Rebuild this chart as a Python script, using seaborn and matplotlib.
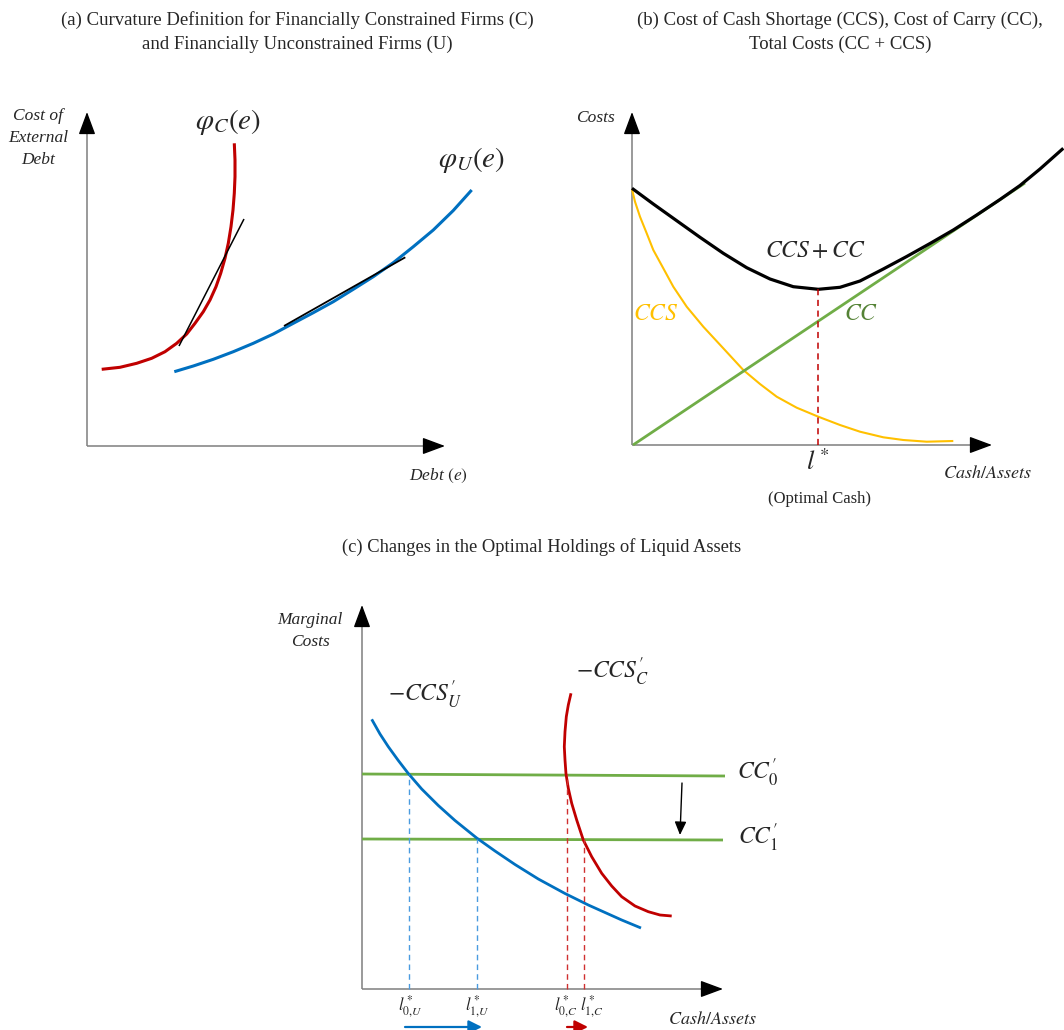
import matplotlib
matplotlib.use("Agg")
import matplotlib.pyplot as plt
import seaborn as sns

sns.set_theme(style="white")
plt.rcParams["font.family"] = ["Liberation Serif", "DejaVu Serif"]
plt.rcParams["mathtext.fontset"] = "stix"

W, H = 1064, 1030

# --- Panel (a): curvature (origin at axis corner)
a_red_x = [14.7, 33, 49.7, 64.7, 78, 89.7, 99.7, 108, 116.3, 123, 129, 133.7, 138,
           141.3, 144, 146, 147.3, 148, 148, 147.3]
a_red_y = [76.7, 78.7, 82.7, 87.7, 94.3, 102.7, 112, 122.7, 134.3, 146, 159.3, 172.7,
           187.7, 202.7, 219.3, 236, 252.7, 269.3, 286, 302.7]
a_red_tan_x = [92, 157]
a_red_tan_y = [100, 227]
a_blue_x = [87.3, 106.3, 126.3, 146.3, 166.3, 186.3, 206.3, 226.3, 246.3, 266.3, 286.3,
            306.3, 326.3, 346.3, 366.3, 384.7]
a_blue_y = [74.3, 80, 86.7, 94.3, 102.7, 112, 122.7, 133.3, 144.3, 156.7, 169.3,
            183.3, 199.3, 216, 235.5, 256]
a_blue_tan_x = [197, 318.3]
a_blue_tan_y = [120, 188.7]

# --- Panel (b): costs
b_total_x = [0, 21.3, 44.7, 68, 91.3, 114.7, 138, 161.3, 186.3, 208, 228, 251.3, 274.7,
             298, 321.3, 344.7, 368, 388, 408, 431.3]
b_total_y = [256.7, 241, 224.3, 207.7, 191.7, 177.3, 166, 158.3, 155.7, 157.7, 164,
             176, 188.5, 201.5, 215, 230, 245.5, 259.5, 276, 296.7]
b_ccs_x = [0, 3, 8, 14.7, 21.3, 31.3, 41.3, 54.7, 71.3, 91.3, 111.3, 128, 144.7, 164.7,
           186.3, 208, 228, 251.3, 271.3, 294.7, 321.3]
b_ccs_y = [255.7, 243.3, 228.3, 211.7, 195, 176.7, 158.3, 138.3, 118.3, 96.7, 75, 61,
           48.3, 37.3, 28.3, 20, 13.3, 7.7, 5, 3.3, 4]
b_cc_x = [1, 393]
b_cc_y = [0, 262]
b_lstar = 186

# --- Panel (c): marginal costs
c_cc0_x, c_cc0_y = [0, 363], [215, 213]
c_cc1_x, c_cc1_y = [0, 361], [150, 149]
c_blue_x = [9.7, 18, 26.3, 36.3, 46.3, 59.7, 76.3, 93, 114.7, 133, 153, 176.3, 203,
            226.3, 243, 259.7, 279]
c_blue_y = [269.7, 255, 242.3, 228.5, 215.5, 200, 183.5, 168.5, 151, 138, 124.5,
            110, 95.5, 84, 76.5, 69, 61]
c_red_x = [209, 206.3, 204.3, 203, 202.3, 203, 204, 206.3, 209.7, 214.7, 221.3, 229.7,
           239.7, 249.7, 259.7, 273, 286.3, 298, 309.7]
c_red_y = [295.7, 284, 272.3, 257.3, 242.3, 229, 215, 200.7, 185.7, 169, 149, 132.3,
           115.7, 103, 92.3, 83, 77.3, 74, 73]
c_l_u = [47, 115]
c_l_c = [205, 222]
c_l_labels = [r"$l^*_{0,\!U}$", r"$l^*_{1,\!U}$", r"$l^*_{0,\!C}$", r"$l^*_{1,\!C}$"]
c_l_label_x = [48, 115, 204, 230]

RED = "#C00000"
BLUE = "#0070C0"
GREEN = "#70AD47"
ORANGE = "#FFC000"
GREY = "#7F7F7F"

fig = plt.figure(figsize=(W / 100, H / 100), dpi=100)


def panel(ox, oy):
    ax = fig.add_axes([0, 0, 1, 1])
    ax.set_xlim(-ox, W - ox)
    ax.set_ylim(oy - H, oy)
    ax.axis("off")
    ax.patch.set_alpha(0)
    return ax


def axes_arrows(ax, xlen, ylen):
    ax.plot([0, 0], [0, ylen - 10], color=GREY, lw=1.1, solid_capstyle="butt")
    ax.plot([0, xlen - 10], [0, 0], color=GREY, lw=1.1, solid_capstyle="butt")
    st = "-|>,head_length=0.7,head_width=0.26"
    ax.annotate("", xy=(0, ylen), xytext=(0, ylen - 12),
                arrowprops=dict(arrowstyle=st, color="black", lw=1, mutation_scale=20,
                                shrinkA=0, shrinkB=0))
    ax.annotate("", xy=(xlen, 0), xytext=(xlen - 12, 0),
                arrowprops=dict(arrowstyle=st, color="black", lw=1, mutation_scale=20,
                                shrinkA=0, shrinkB=0))


def curve(ax, x, y, color, lw):
    sns.lineplot(x=x, y=y, ax=ax, color=color, lw=lw, sort=False, estimator=None,
                 legend=False, solid_joinstyle="round", solid_capstyle="butt")


# titles
fig.text(297 / W, 1 - 32 / H,
         "(a) Curvature Definition for Financially Constrained Firms (C)\n"
         "and Financially Unconstrained Firms (U)",
         ha="center", va="center", fontsize=13.5, linespacing=1.55)
fig.text(840 / W, 1 - 32 / H,
         "(b) Cost of Cash Shortage (CCS), Cost of Carry (CC),\nTotal Costs (CC + CCS)",
         ha="center", va="center", fontsize=13.5, linespacing=1.55)
fig.text(542 / W, 1 - 547 / H, "(c) Changes in the Optimal Holdings of Liquid Assets",
         ha="center", va="center", fontsize=13.3)

# ---------------- panel (a)
ax = panel(87, 446)
axes_arrows(ax, 358, 334)
curve(ax, a_red_x, a_red_y, RED, 2.2)
curve(ax, a_blue_x, a_blue_y, BLUE, 2.2)
curve(ax, a_red_tan_x, a_red_tan_y, "black", 1.1)
curve(ax, a_blue_tan_x, a_blue_tan_y, "black", 1.3)
ax.text(141, 324, r"$\varphi_C(e)$", fontsize=21, ha="center", va="center")
ax.text(385, 286, r"$\varphi_U(e)$", fontsize=21, ha="center", va="center")
ax.text(-49, 308, "Cost of\nExternal\nDebt", fontsize=12.5, style="italic",
        ha="center", va="center", linespacing=1.5)
ax.text(351, -30, r"Debt $(e)$", fontsize=12.5, style="italic", ha="center", va="center")

# ---------------- panel (b)
ax = panel(632, 445)
axes_arrows(ax, 360, 333)
curve(ax, b_ccs_x, b_ccs_y, ORANGE, 1.5)
curve(ax, b_cc_x, b_cc_y, GREEN, 2.0)
curve(ax, b_total_x, b_total_y, "black", 2.3)
ax.plot([b_lstar, b_lstar], [0, 156], color=RED, lw=1.1, ls=(0, (4, 3)))
ax.text(183, 193, r"$CCS + CC$", fontsize=17, ha="center", va="center")
ax.text(24, 130, r"$CCS$", fontsize=17, color=ORANGE, ha="center", va="center")
ax.text(229, 130, r"$CC$", fontsize=17, color="#548235", ha="center", va="center")
ax.text(b_lstar, -17, r"$l^*$", fontsize=19, ha="center", va="center")
ax.text(188, -54, "(Optimal Cash)", fontsize=12, ha="center", va="center")
ax.text(355, -29, r"$Cash/Assets$", fontsize=13, ha="center", va="center")
ax.text(-37, 327, "Costs", fontsize=12.5, style="italic", ha="center", va="center")

# ---------------- panel (c)
ax = panel(362, 989)
axes_arrows(ax, 361, 384)
curve(ax, c_cc0_x, c_cc0_y, GREEN, 2.0)
curve(ax, c_cc1_x, c_cc1_y, GREEN, 2.0)
curve(ax, c_blue_x, c_blue_y, BLUE, 2.0)
curve(ax, c_red_x, c_red_y, RED, 2.0)
for xv, top in zip(c_l_u, [c_cc0_y[0], c_cc1_y[0]]):
    ax.plot([xv, xv], [0, top], color="#4A9BE0", lw=1.0, ls=(0, (4, 3)))
for xv, top in zip(c_l_c, [c_cc0_y[0], c_cc1_y[0]]):
    ax.plot([xv, xv], [0, top], color="#D03030", lw=1.0, ls=(0, (4, 3)))
for xv, lab in zip(c_l_label_x, c_l_labels):
    ax.text(xv, -18, lab, fontsize=12, ha="center", va="center")
ax.annotate("", xy=(318, 154), xytext=(320, 206),
            arrowprops=dict(arrowstyle="-|>,head_length=0.5,head_width=0.22",
                            color="black", lw=1, mutation_scale=16, shrinkA=0, shrinkB=0))
ax.annotate("", xy=(c_l_u[1] + 5, -38), xytext=(c_l_u[0] - 4, -38),
            arrowprops=dict(arrowstyle="-|>,head_length=0.5,head_width=0.25",
                            color=BLUE, lw=1.6, mutation_scale=16, shrinkA=0, shrinkB=0))
ax.annotate("", xy=(c_l_c[1] + 4, -38), xytext=(c_l_c[0], -38),
            arrowprops=dict(arrowstyle="-|>,head_length=0.5,head_width=0.25",
                            color=RED, lw=1.6, mutation_scale=16, shrinkA=0, shrinkB=0))
ax.text(63, 294, r"$-CCS_U'$", fontsize=17, ha="center", va="center")
ax.text(250, 317, r"$-CCS_C'$", fontsize=17, ha="center", va="center")
ax.text(396, 216, r"$CC_0'$", fontsize=17, ha="center", va="center")
ax.text(396, 151, r"$CC_1'$", fontsize=17, ha="center", va="center")
ax.text(350, -31, r"$Cash/Assets$", fontsize=13, ha="center", va="center")
ax.text(-52, 358, "Marginal\nCosts", fontsize=12.5, style="italic", ha="center",
        va="center", linespacing=1.5)

fig.savefig("out.png", dpi=100, facecolor="white")
